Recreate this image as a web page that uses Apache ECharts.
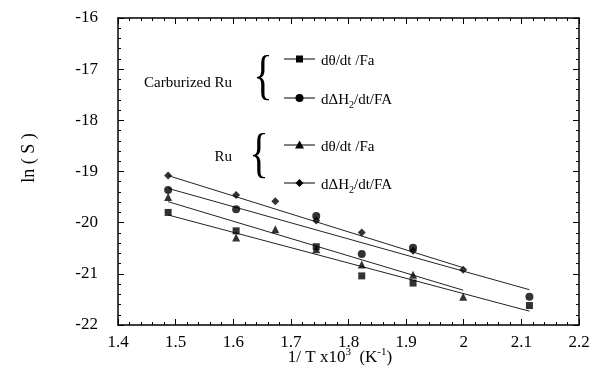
<!DOCTYPE html>
<html>
<head>
<meta charset="utf-8">
<script src="https://cdn.jsdelivr.net/npm/echarts@6/dist/echarts.min.js"></script>
<style>
  html, body { margin: 0; padding: 0; background: #fff; }
  #chart { width: 595px; height: 389px; }
</style>
</head>
<body>
<div id="chart"></div>
<script>
// values
var xTickLabels = ['1.4', '1.5', '1.6', '1.7', '1.8', '1.9', '2', '2.1', '2.2'];
var yTickLabels = ['-22', '-21', '-20', '-19', '-18', '-17', '-16'];

// Carburized Ru
var carbX = [1.487, 1.605, 1.744, 1.823, 1.912, 2.114];
var carbTheta = [-19.80, -20.16, -20.47, -21.04, -21.18, -21.62];   // squares
var carbH2 = [-19.36, -19.74, -19.87, -20.61, -20.49, -21.45];      // circles

// Ru
var ruX = [1.487, 1.605, 1.673, 1.744, 1.823, 1.912, 1.999];
var ruTheta = [-19.50, -20.29, -20.13, -20.52, -20.82, -21.02, -21.45]; // triangles
var ruH2 = [-19.08, -19.46, -19.58, -19.96, -20.19, -20.55, -20.92];    // diamonds

// fitted straight lines, ends as drawn
var fitCarbTheta = [[1.487, -19.85], [2.114, -21.73]];
var fitCarbH2 = [[1.487, -19.33], [2.114, -21.31]];
var fitRuTheta = [[1.487, -19.59], [1.999, -21.32]];
var fitRuH2 = [[1.487, -19.08], [1.999, -20.88]];

var FONT = 'Liberation Serif';

function pairs(xs, ys) {
  return xs.map(function (x, i) { return [x, ys[i]]; });
}

var chart = echarts.init(document.getElementById('chart'));

function xAxisCfg(pos, labels) {
  return {
    type: 'value',
    position: pos,
    min: 1.4,
    max: 2.2,
    interval: 0.1,
    axisLine: { show: true, onZero: false, lineStyle: { color: '#000', width: 1.5 } },
    axisTick: { show: true, inside: true, length: 6, lineStyle: { color: '#000', width: 1 } },
    minorTick: { show: true, splitNumber: 5, length: 3, lineStyle: { color: '#000', width: 1 } },
    splitLine: { show: false },
    axisLabel: {
      show: labels,
      color: '#000',
      fontFamily: FONT,
      fontSize: 17,
      margin: 9,
      formatter: function (v) {
        return xTickLabels[Math.round((v - 1.4) / 0.1)];
      }
    }
  };
}

function yAxisCfg(pos, labels) {
  return {
    type: 'value',
    position: pos,
    min: -22,
    max: -16,
    interval: 1,
    axisLine: { show: true, onZero: false, lineStyle: { color: '#000', width: 1.5 } },
    axisTick: { show: true, inside: true, length: 6, lineStyle: { color: '#000', width: 1 } },
    minorTick: { show: true, splitNumber: 5, length: 3, lineStyle: { color: '#000', width: 1 } },
    splitLine: { show: false },
    axisLabel: {
      show: labels,
      color: '#000',
      fontFamily: FONT,
      fontSize: 17,
      margin: 20,
      formatter: function (v) {
        return yTickLabels[Math.round(v + 22)];
      }
    }
  };
}

function fitLine(data) {
  return {
    type: 'line',
    data: data,
    symbol: 'none',
    silent: true,
    lineStyle: { color: '#222', width: 1 },
    z: 1
  };
}

function dots(data, symbol, size) {
  return {
    type: 'scatter',
    data: data,
    symbol: symbol,
    symbolSize: size,
    itemStyle: { color: '#000' },
    silent: true,
    z: 3
  };
}

// legend glyphs drawn by hand, like the printed figure
function legendRow(y, marker, label) {
  var els = [{
    type: 'line',
    shape: { x1: 284, y1: y, x2: 315, y2: y },
    style: { stroke: '#000', lineWidth: 1 }
  }];
  if (marker === 'square') {
    els.push({ type: 'rect', shape: { x: 296, y: y - 3.5, width: 7, height: 7 }, style: { fill: '#000' } });
  } else if (marker === 'circle') {
    els.push({ type: 'circle', shape: { cx: 299.5, cy: y, r: 4 }, style: { fill: '#000' } });
  } else if (marker === 'triangle') {
    els.push({ type: 'polygon', shape: { points: [[299.5, y - 4.5], [304, y + 3.5], [295, y + 3.5]] }, style: { fill: '#000' } });
  } else {
    els.push({ type: 'polygon', shape: { points: [[299.5, y - 4], [303.5, y], [299.5, y + 4], [295.5, y]] }, style: { fill: '#000' } });
  }
  els.push({
    type: 'text',
    x: 321,
    y: y + 2,
    style: {
      text: label,
      fontFamily: FONT,
      fontSize: 15,
      fill: '#000',
      verticalAlign: 'middle',
      rich: {
        n: { fontFamily: FONT, fontSize: 15, fill: '#000', lineHeight: 21 },
        s: { fontFamily: FONT, fontSize: 10, fill: '#000', verticalAlign: 'bottom', lineHeight: 10 }
      }
    }
  });
  return els;
}

function brace(x, y) {
  return {
    type: 'text', x: x, y: y, scaleX: 0.75,
    style: { text: '{', fontFamily: FONT, fontSize: 54, fill: '#000', align: 'center', verticalAlign: 'middle' }
  };
}

var thetaLabel = '{n|d\u03b8/dt /Fa}';
var h2Label = '{n|d\u0394H}{s|2}{n|/dt/FA}';

var graphics = [].concat(
  [
    { type: 'text', x: 232, y: 83, style: { text: 'Carburized Ru', fontFamily: FONT, fontSize: 15, fill: '#000', align: 'right', verticalAlign: 'middle' } },
    brace(263, 79),
    { type: 'text', x: 232, y: 157, style: { text: 'Ru', fontFamily: FONT, fontSize: 15, fill: '#000', align: 'right', verticalAlign: 'middle' } },
    brace(259, 157),
    {
      type: 'text', x: 29, y: 158, rotation: Math.PI / 2,
      style: { text: 'ln ( S )', fontFamily: FONT, fontSize: 18, fill: '#000', align: 'center', verticalAlign: 'middle' }
    },
    {
      type: 'text', x: 340, y: 358,
      style: {
        text: '{n|1/ T x10}{p|3}{n|  (K}{p|-1}{n|)}',
        align: 'center',
        verticalAlign: 'middle',
        rich: {
          n: { fontFamily: FONT, fontSize: 17, fill: '#000', lineHeight: 22 },
          p: { fontFamily: FONT, fontSize: 11, fill: '#000', verticalAlign: 'top', lineHeight: 11 }
        }
      }
    }
  ],
  legendRow(59, 'square', thetaLabel),
  legendRow(98, 'circle', h2Label),
  legendRow(145, 'triangle', thetaLabel),
  legendRow(183, 'diamond', h2Label)
);

chart.setOption({
  backgroundColor: '#fff',
  animation: false,
  grid: { left: 118, right: 16, top: 18, bottom: 64 },
  xAxis: [xAxisCfg('bottom', true), xAxisCfg('top', false)],
  yAxis: [yAxisCfg('left', true), yAxisCfg('right', false)],
  series: [
    fitLine(fitCarbTheta),
    fitLine(fitCarbH2),
    fitLine(fitRuTheta),
    fitLine(fitRuH2),
    dots(pairs(carbX, carbTheta), 'rect', 7),
    dots(pairs(carbX, carbH2), 'circle', 8),
    dots(pairs(ruX, ruTheta), 'triangle', 8),
    dots(pairs(ruX, ruH2), 'diamond', 8)
  ],
  graphic: graphics
});
</script>
</body>
</html>
